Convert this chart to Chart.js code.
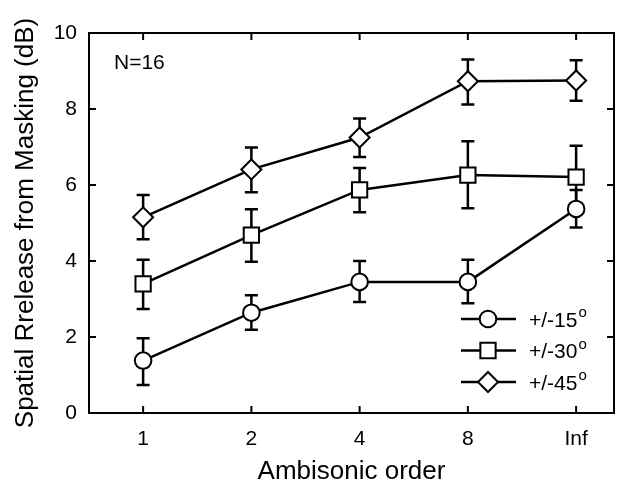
<!DOCTYPE html>
<html>
<head>
<meta charset="utf-8">
<script src="https://cdn.jsdelivr.net/npm/chart.js@4.4.1/dist/chart.umd.min.js"></script>
<style>
  body { margin: 0; background: #fff; }
  #wrap { width: 618px; height: 487px; }
</style>
</head>
<body>
<div id="wrap"><canvas id="srmChart"></canvas></div>
<script>
// data
const orders = ['1', '2', '4', '8', 'Inf'];
const seriesNames = ['+/-15', '+/-30', '+/-45'];
const mean15 = [1.38, 2.64, 3.45, 3.45, 5.37];
const low15  = [0.74, 2.19, 2.92, 2.89, 4.88];
const high15 = [1.97, 3.10, 4.00, 4.03, 5.87];
const mean30 = [3.40, 4.68, 5.87, 6.26, 6.21];
const low30  = [2.74, 3.98, 5.28, 5.39, 5.40];
const high30 = [4.03, 5.36, 6.45, 7.15, 7.03];
const mean45 = [5.15, 6.41, 7.25, 8.73, 8.75];
const low45  = [4.57, 5.81, 6.74, 8.12, 8.22];
const high45 = [5.74, 6.99, 7.75, 9.30, 9.28];
const yTicks = [0, 2, 4, 6, 8, 10];

const FONT = 'Liberation Sans, Arial, Helvetica, sans-serif';

function toPoints(arr) {
    return arr.map((v, i) => ({ x: i, y: v }));
}

function makeSet(label, values, lows, highs, style, radius) {
    return {
        label: label,
        data: toPoints(values),
        low: lows,
        high: highs,
        showLine: true,
        borderColor: '#000',
        borderWidth: 2.5,
        pointStyle: style,
        pointRadius: radius,
        pointHoverRadius: radius,
        pointBackgroundColor: '#fff',
        pointBorderColor: '#000',
        pointBorderWidth: 2
    };
}

// error bars behind the markers
const errorBars = {
    id: 'errorBars',
    beforeDatasetsDraw(chart) {
        const ctx = chart.ctx;
        const xs = chart.scales.x, ys = chart.scales.y;
        ctx.save();
        ctx.strokeStyle = '#000';
        ctx.lineWidth = 2.5;
        chart.data.datasets.forEach(ds => {
            ds.data.forEach((p, i) => {
                const x = xs.getPixelForValue(p.x);
                const y1 = ys.getPixelForValue(ds.low[i]);
                const y2 = ys.getPixelForValue(ds.high[i]);
                ctx.beginPath();
                ctx.moveTo(x, y1); ctx.lineTo(x, y2);
                ctx.moveTo(x - 6.5, y1); ctx.lineTo(x + 6.5, y1);
                ctx.moveTo(x - 6.5, y2); ctx.lineTo(x + 6.5, y2);
                ctx.stroke();
            });
        });
        ctx.restore();
    }
};

function marker(ctx, style, x, y, r) {
    ctx.beginPath();
    if (style === 'circle') {
        ctx.arc(x, y, r, 0, Math.PI * 2);
    } else if (style === 'rect') {
        const s = r * Math.SQRT1_2;
        ctx.rect(x - s, y - s, 2 * s, 2 * s);
    } else {
        ctx.moveTo(x, y - r); ctx.lineTo(x + r, y);
        ctx.lineTo(x, y + r); ctx.lineTo(x - r, y);
        ctx.closePath();
    }
    ctx.fillStyle = '#fff';
    ctx.fill();
    ctx.lineWidth = 2;
    ctx.strokeStyle = '#000';
    ctx.stroke();
}

// box, inward ticks, note and legend
const frame = {
    id: 'frame',
    afterDraw(chart) {
        const ctx = chart.ctx;
        const a = chart.chartArea;
        const xs = chart.scales.x, ys = chart.scales.y;
        ctx.save();
        ctx.strokeStyle = '#000';
        ctx.lineWidth = 2;
        ctx.strokeRect(a.left, a.top, a.right - a.left, a.bottom - a.top);
        ctx.beginPath();
        orders.forEach((o, i) => {
            const x = xs.getPixelForValue(i);
            ctx.moveTo(x, a.bottom); ctx.lineTo(x, a.bottom - 7);
            ctx.moveTo(x, a.top); ctx.lineTo(x, a.top + 7);
        });
        yTicks.forEach(v => {
            const y = ys.getPixelForValue(v);
            ctx.moveTo(a.left, y); ctx.lineTo(a.left + 7, y);
            ctx.moveTo(a.right, y); ctx.lineTo(a.right - 7, y);
        });
        ctx.stroke();

        ctx.fillStyle = '#000';
        ctx.font = '21px ' + FONT;
        ctx.textBaseline = 'middle';
        ctx.textAlign = 'left';
        ctx.fillText('N=16', a.left + 25, a.top + 30);

        // legend
        chart.data.datasets.forEach((ds, k) => {
            const y = a.top + 286 + k * 31.5;
            const x0 = a.right - 153;
            ctx.beginPath();
            ctx.lineWidth = 2.5;
            ctx.moveTo(x0, y); ctx.lineTo(x0 + 55, y);
            ctx.stroke();
            marker(ctx, ds.pointStyle, x0 + 27, y, ds.pointRadius);
            ctx.fillStyle = '#000';
            ctx.font = '21px ' + FONT;
            ctx.fillText(ds.label, x0 + 68, y + 2);
            const w = ctx.measureText(ds.label).width;
            ctx.font = '15px ' + FONT;
            ctx.fillText('o', x0 + 69 + w, y - 6);
        });
        ctx.restore();
    }
};

const ctx = document.getElementById('srmChart').getContext('2d');
const srmChart = new Chart(ctx, {
    type: 'scatter',
    data: {
        datasets: [
            makeSet(seriesNames[0], mean15, low15, high15, 'circle', 8.3),
            makeSet(seriesNames[1], mean30, low30, high30, 'rect', 10.8),
            makeSet(seriesNames[2], mean45, low45, high45, 'rectRot', 10)
        ]
    },
    options: {
        responsive: true,
        maintainAspectRatio: false,
        animation: false,
        layout: {
            autoPadding: false,
            padding: { top: 33, right: 4, left: 0, bottom: 0 }
        },
        plugins: {
            legend: { display: false },
            tooltip: { enabled: false }
        },
        scales: {
            x: {
                type: 'linear',
                min: -0.5,
                max: 4.35,
                afterBuildTicks: (axis) => {
                    axis.ticks = orders.map((o, i) => ({ value: i }));
                },
                afterFit: (axis) => {
                    axis.height = 74;
                    axis.paddingLeft = 0;
                    axis.paddingRight = 0;
                },
                grid: { display: false, drawTicks: false },
                border: { display: false },
                ticks: {
                    color: '#000',
                    padding: 14,
                    maxRotation: 0,
                    font: { family: FONT, size: 21 },
                    callback: (v) => orders[v]
                },
                title: {
                    display: true,
                    text: 'Ambisonic order',
                    color: '#000',
                    padding: { top: 0, bottom: 0 },
                    font: { family: FONT, size: 26 }
                }
            },
            y: {
                min: 0,
                max: 10,
                afterBuildTicks: (axis) => {
                    axis.ticks = yTicks.map(v => ({ value: v }));
                },
                afterFit: (axis) => {
                    axis.width = 89;
                    axis.paddingTop = 0;
                    axis.paddingBottom = 0;
                },
                grid: { display: false, drawTicks: false },
                border: { display: false },
                ticks: {
                    color: '#000',
                    padding: 12,
                    font: { family: FONT, size: 21 }
                },
                title: {
                    display: true,
                    text: 'Spatial Rrelease from Masking (dB)',
                    color: '#000',
                    padding: { top: 10, bottom: 0 },
                    font: { family: FONT, size: 26 }
                }
            }
        }
    },
    plugins: [errorBars, frame]
});
</script>
</body>
</html>
